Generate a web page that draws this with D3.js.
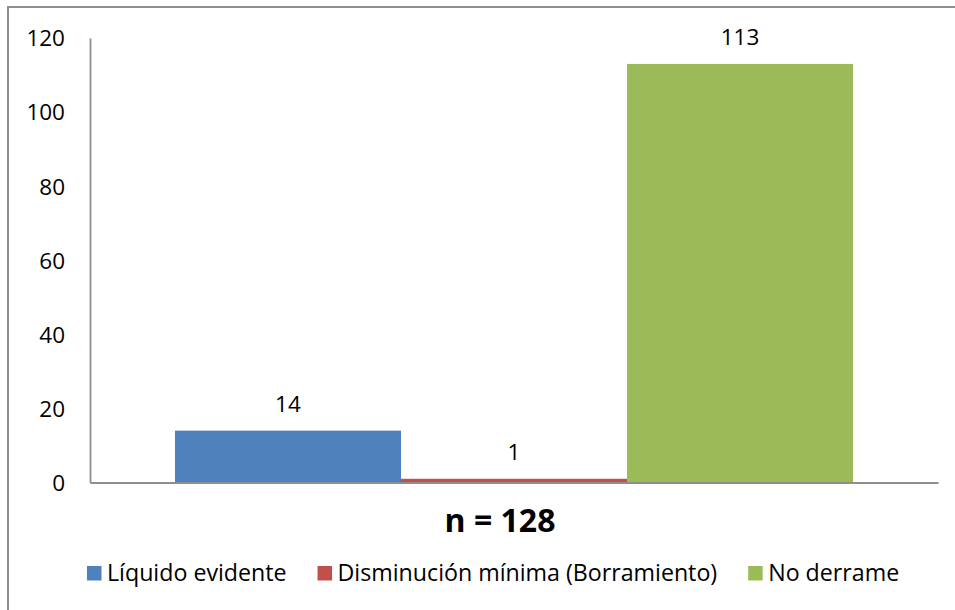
<!DOCTYPE html>
<html>
<head>
<meta charset="utf-8">
<script src="https://cdn.jsdelivr.net/npm/d3@7"></script>
<style>
  html, body { margin: 0; padding: 0; background: #fff; }
  svg { display: block; font-family: "Open Sans", sans-serif; }
</style>
</head>
<body>
<svg id="chart" width="955" height="610"></svg>
<script>
const seriesNames = ["Líquido evidente", "Disminución mínima (Borramiento)", "No derrame"];
const seriesValues = [14, 1, 113];
const seriesColors = ["#4f81bd", "#c0504d", "#9bbb59"];
const yTicks = [0, 20, 40, 60, 80, 100, 120];
const xTitle = "n = 128";

(function () {
const svg = d3.select("#chart");
const plotLeft = 90, plotRight = 938, plotTop = 38, plotBottom = 482.5;

// outer border (only top and left visible in the frame)
svg.append("rect")
  .attr("x", 8).attr("y", 7)
  .attr("width", 1000).attr("height", 700)
  .attr("fill", "none").attr("stroke", "#8e8e8e").attr("stroke-width", 2);

const y = d3.scaleLinear().domain([0, 120]).range([plotBottom, plotTop]);
const x = d3.scaleBand().domain(seriesNames).range([plotLeft, plotRight])
  .paddingInner(0).paddingOuter(0.376);

// bars
svg.append("g").selectAll("rect")
  .data(seriesNames)
  .join("rect")
  .attr("x", d => x(d))
  .attr("width", x.bandwidth())
  .attr("y", (d, i) => y(seriesValues[i]))
  .attr("height", (d, i) => y(0) - y(seriesValues[i]))
  .attr("fill", (d, i) => seriesColors[i]);

// value labels
svg.append("g").selectAll("text")
  .data(seriesNames)
  .join("text")
  .attr("x", d => x(d) + x.bandwidth() / 2)
  .attr("y", (d, i) => y(seriesValues[i]) - 19)
  .attr("text-anchor", "middle")
  .attr("font-size", "22.5px")
  .attr("fill", "#000")
  .text((d, i) => seriesValues[i]);

// y axis
const yAxis = d3.axisLeft(y).tickValues(yTicks).tickSize(0).tickPadding(25);
const gy = svg.append("g").attr("transform", `translate(${plotLeft},0)`).call(yAxis);
gy.select(".domain").attr("stroke", "#8e8e8e").attr("stroke-width", 1.8);
gy.selectAll("text")
  .attr("font-family", "Open Sans, sans-serif")
  .attr("font-size", "22.5px")
  .attr("fill", "#000")
  .attr("dy", "0.35em");

// x axis line
const xAxis = d3.axisBottom(x).tickSize(0).tickFormat("");
const gx = svg.append("g").attr("transform", `translate(0,${plotBottom})`).call(xAxis);
gx.select(".domain").attr("stroke", "#8e8e8e").attr("stroke-width", 2);

// x title
svg.append("text")
  .attr("x", 500).attr("y", 532)
  .attr("text-anchor", "middle")
  .attr("font-size", "32px")
  .attr("font-weight", "bold")
  .attr("fill", "#000")
  .text(xTitle);

// legend
const legend = svg.append("g");
let lx = 87;
seriesNames.forEach((name, i) => {
  legend.append("rect")
    .attr("x", lx).attr("y", 566)
    .attr("width", 14.5).attr("height", 14.5)
    .attr("fill", seriesColors[i]);
  const t = legend.append("text")
    .attr("x", lx + 20).attr("y", 581)
    .attr("font-size", "23.2px")
    .attr("fill", "#000")
    .text(name);
  lx = lx + 20 + t.node().getComputedTextLength() + 31;
});
})();
</script>
</body>
</html>
